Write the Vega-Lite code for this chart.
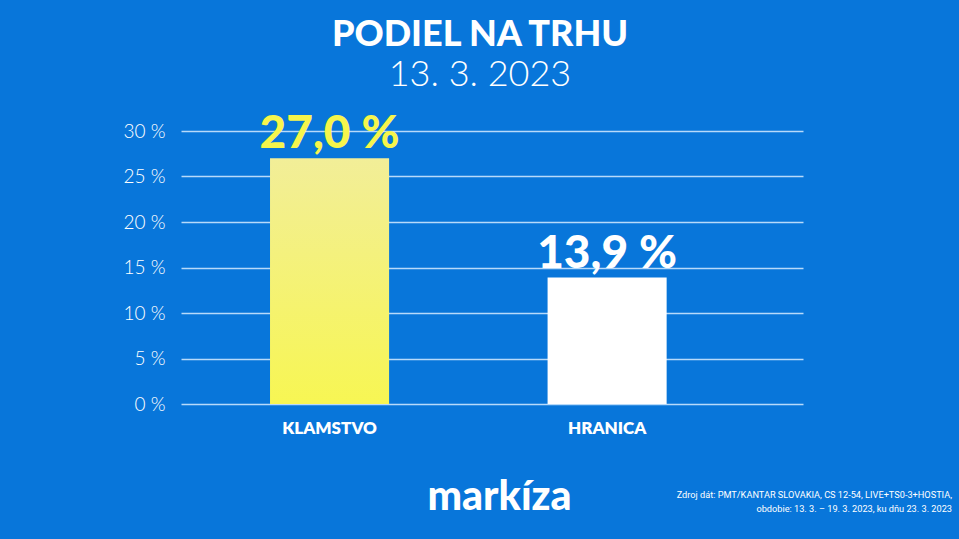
{
  "$schema": "https://vega.github.io/schema/vega-lite/v6.json",
  "width": 622,
  "height": 273,
  "autosize": {"type": "none"},
  "padding": {"left": 181, "top": 131, "right": 156, "bottom": 135},
  "background": "#0876da",
  "config": {"view": {"stroke": null}},
  "title": {
    "text": "PODIEL NA TRHU",
    "subtitle": "13. 3. 2023",
    "anchor": "middle",
    "dx": -12,
    "offset": 17,
    "font": "Lato",
    "fontWeight": 900,
    "fontSize": 36,
    "color": "#ffffff",
    "subtitleFont": "Lato",
    "subtitleFontWeight": 300,
    "subtitleFontSize": 36,
    "subtitleColor": "#ffffff",
    "subtitlePadding": 4
  },
  "data": {
    "values": [
      {"show": "KLAMSTVO", "share": 27.0},
      {"show": "HRANICA", "share": 13.9}
    ]
  },
  "transform": [
    {"calculate": "replace(format(datum.share, '.1f'), '.', ',') + ' %'", "as": "label"}
  ],
  "encoding": {
    "x": {
      "field": "show",
      "type": "nominal",
      "sort": null,
      "scale": {"paddingInner": 0.571, "paddingOuter": 0.406, "align": 0.395},
      "axis": {
        "title": "markíza",
        "titleFont": "Lato",
        "titleFontWeight": 900,
        "titleFontSize": 41,
        "titleColor": "#ffffff",
        "titlePadding": 41,
        "titleX": 318,
        "labelAngle": 0,
        "labelFont": "Lato",
        "labelFontWeight": 800,
        "labelFontSize": 17,
        "labelColor": "#ffffff",
        "labelPadding": 16,
        "domain": false,
        "ticks": false
      }
    },
    "y": {
      "field": "share",
      "type": "quantitative",
      "scale": {"domain": [0, 30]},
      "axis": {
        "title": null,
        "values": [0, 5, 10, 15, 20, 25, 30],
        "labelExpr": "datum.value + ' %'",
        "labelFont": "Lato",
        "labelFontWeight": 300,
        "labelFontSize": 19,
        "labelColor": "#ffffff",
        "labelPadding": 16,
        "domain": false,
        "ticks": false,
        "grid": true,
        "gridColor": "#d6ecff",
        "gridOpacity": 0.85,
        "gridWidth": 1.5
      }
    }
  },
  "layer": [
    {
      "mark": {"type": "bar"},
      "encoding": {
        "fill": {
          "condition": {
            "test": "datum.show === 'KLAMSTVO'",
            "value": {
              "gradient": "linear",
              "x1": 0, "y1": 0, "x2": 0, "y2": 1,
              "stops": [
                {"offset": 0, "color": "#f2ee98"},
                {"offset": 1, "color": "#f7f653"}
              ]
            }
          },
          "value": "#ffffff"
        }
      }
    },
    {
      "mark": {
        "type": "text",
        "baseline": "alphabetic",
        "dy": -10,
        "font": "Lato",
        "fontWeight": 900,
        "fontSize": 46
      },
      "encoding": {
        "text": {"field": "label"},
        "color": {
          "condition": {"test": "datum.show === 'KLAMSTVO'", "value": "#f6f54c"},
          "value": "#ffffff"
        }
      }
    },
    {
      "data": {
        "values": [
          {"note": "Zdroj dát: PMT/KANTAR SLOVAKIA, CS 12-54, LIVE+TS0-3+HOSTIA,\nobdobie: 13. 3. – 19. 3. 2023, ku dňu 23. 3. 2023"}
        ]
      },
      "mark": {
        "type": "text",
        "align": "right",
        "baseline": "middle",
        "lineBreak": "\n",
        "lineHeight": 14,
        "dx": 149,
        "dy": 91,
        "font": "Roboto",
        "fontSize": 9.2,
        "color": "#ffffff"
      },
      "encoding": {
        "x": {"value": "width"},
        "y": {"value": "height"},
        "text": {"field": "note"}
      }
    }
  ]
}
